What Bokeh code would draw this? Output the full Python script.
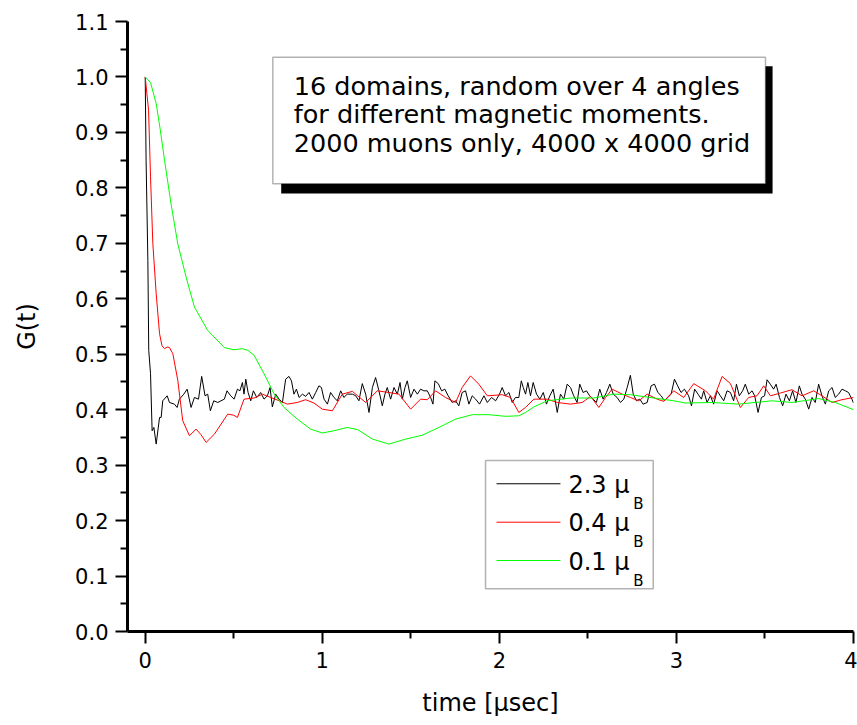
from bokeh.plotting import figure
from bokeh.models import Range1d, FixedTicker, BoxAnnotation, Label, Arrow
from bokeh.embed import file_html
from bokeh.resources import INLINE

# ---------------- data ----------------
t_23 = [0.000, 0.005, 0.015, 0.020, 0.030, 0.039, 0.049, 0.062, 0.081, 0.090, 0.099, 0.124, 0.137, 0.165, 0.180,
        0.193, 0.218, 0.237, 0.259, 0.278, 0.301, 0.319, 0.338, 0.353, 0.368, 0.387, 0.410, 0.428, 0.447, 0.462,
        0.483, 0.502, 0.521, 0.535, 0.549, 0.558, 0.568, 0.581, 0.596, 0.611, 0.630, 0.652, 0.671, 0.690, 0.705,
        0.718, 0.737, 0.756, 0.775, 0.793, 0.812, 0.826, 0.840, 0.854, 0.869, 0.888, 0.906, 0.925, 0.944, 0.963,
        0.981, 0.995, 1.010, 1.029, 1.047, 1.066, 1.085, 1.104, 1.122, 1.141, 1.170, 1.189, 1.207, 1.226, 1.245,
        1.264, 1.283, 1.301, 1.320, 1.339, 1.354, 1.367, 1.386, 1.405, 1.424, 1.439, 1.452, 1.467, 1.480, 1.499,
        1.518, 1.537, 1.555, 1.574, 1.593, 1.612, 1.625, 1.636, 1.655, 1.674, 1.692, 1.711, 1.734, 1.753, 1.771,
        1.790, 1.809, 1.828, 1.847, 1.866, 1.888, 1.913, 1.932, 1.956, 1.979, 2.001, 2.016, 2.035, 2.054, 2.073,
        2.091, 2.110, 2.124, 2.135, 2.148, 2.161, 2.176, 2.191, 2.210, 2.229, 2.248, 2.266, 2.285, 2.304, 2.327,
        2.345, 2.364, 2.383, 2.402, 2.420, 2.439, 2.454, 2.473, 2.492, 2.510, 2.530, 2.548, 2.567, 2.586, 2.605,
        2.624, 2.643, 2.665, 2.684, 2.703, 2.722, 2.740, 2.756, 2.774, 2.793, 2.812, 2.835, 2.857, 2.876, 2.895,
        2.914, 2.932, 2.951, 2.970, 2.989, 3.007, 3.026, 3.045, 3.069, 3.085, 3.103, 3.122, 3.141, 3.154, 3.173,
        3.192, 3.210, 3.230, 3.248, 3.267, 3.286, 3.305, 3.323, 3.339, 3.355, 3.374, 3.389, 3.408, 3.427, 3.442,
        3.461, 3.480, 3.498, 3.512, 3.530, 3.549, 3.563, 3.582, 3.600, 3.619, 3.638, 3.656, 3.675, 3.694, 3.709,
        3.728, 3.747, 3.766, 3.784, 3.803, 3.822, 3.841, 3.860, 3.879, 3.897, 3.916, 3.935, 3.954, 3.972, 3.991,
        4.000]
g_23 = [1.000, 0.850, 0.669, 0.507, 0.465, 0.362, 0.368, 0.338, 0.386, 0.386, 0.416, 0.425, 0.413, 0.410, 0.404,
        0.419, 0.428, 0.437, 0.404, 0.422, 0.419, 0.460, 0.425, 0.428, 0.398, 0.416, 0.413, 0.416, 0.419, 0.434,
        0.425, 0.419, 0.437, 0.434, 0.449, 0.428, 0.455, 0.431, 0.416, 0.434, 0.422, 0.431, 0.419, 0.425, 0.440,
        0.405, 0.428, 0.419, 0.413, 0.455, 0.460, 0.452, 0.428, 0.437, 0.422, 0.428, 0.424, 0.431, 0.419, 0.431,
        0.443, 0.440, 0.419, 0.410, 0.431, 0.422, 0.416, 0.434, 0.422, 0.428, 0.428, 0.425, 0.416, 0.447, 0.428,
        0.395, 0.440, 0.458, 0.434, 0.407, 0.428, 0.440, 0.419, 0.440, 0.428, 0.449, 0.419, 0.440, 0.452, 0.422,
        0.437, 0.428, 0.437, 0.434, 0.434, 0.422, 0.410, 0.452, 0.447, 0.434, 0.437, 0.425, 0.413, 0.416, 0.407,
        0.431, 0.434, 0.410, 0.425, 0.419, 0.410, 0.425, 0.413, 0.422, 0.416, 0.428, 0.440, 0.425, 0.431, 0.413,
        0.422, 0.422, 0.452, 0.440, 0.428, 0.449, 0.425, 0.449, 0.428, 0.419, 0.431, 0.410, 0.425, 0.437, 0.395,
        0.428, 0.419, 0.446, 0.440, 0.425, 0.413, 0.446, 0.431, 0.434, 0.425, 0.419, 0.413, 0.437, 0.419, 0.431,
        0.446, 0.428, 0.422, 0.413, 0.419, 0.440, 0.462, 0.428, 0.416, 0.419, 0.410, 0.413, 0.443, 0.446, 0.431,
        0.425, 0.416, 0.422, 0.428, 0.455, 0.443, 0.431, 0.437, 0.425, 0.407, 0.437, 0.428, 0.419, 0.434, 0.413,
        0.425, 0.410, 0.434, 0.425, 0.416, 0.434, 0.431, 0.416, 0.446, 0.425, 0.434, 0.446, 0.428, 0.434, 0.425,
        0.395, 0.422, 0.425, 0.454, 0.446, 0.437, 0.446, 0.422, 0.407, 0.428, 0.416, 0.434, 0.413, 0.443, 0.428,
        0.419, 0.401, 0.422, 0.413, 0.446, 0.425, 0.410, 0.434, 0.440, 0.422, 0.428, 0.437, 0.434, 0.431, 0.419,
        0.412]

t_04 = [0.000, 0.019, 0.030, 0.043, 0.062, 0.081, 0.095, 0.109, 0.125, 0.137, 0.156, 0.184, 0.212, 0.250, 0.287,
        0.315, 0.344, 0.391, 0.466, 0.500, 0.521, 0.558, 0.615, 0.662, 0.709, 0.765, 0.803, 0.859, 0.906, 0.953,
        1.000, 1.057, 1.113, 1.170, 1.200, 1.245, 1.311, 1.376, 1.433, 1.499, 1.555, 1.593, 1.640, 1.696, 1.753,
        1.790, 1.837, 1.884, 1.932, 2.016, 2.063, 2.110, 2.148, 2.195, 2.270, 2.327, 2.402, 2.468, 2.515, 2.562,
        2.600, 2.637, 2.694, 2.740, 2.787, 2.835, 2.891, 2.928, 2.985, 3.041, 3.098, 3.164, 3.210, 3.258, 3.305,
        3.361, 3.408, 3.455, 3.493, 3.531, 3.587, 3.653, 3.709, 3.775, 3.822, 3.879, 3.935, 4.000]
g_04 = [1.000, 0.940, 0.820, 0.700, 0.609, 0.537, 0.515, 0.510, 0.513, 0.512, 0.501, 0.453, 0.380, 0.353, 0.365,
        0.355, 0.341, 0.356, 0.392, 0.390, 0.386, 0.419, 0.421, 0.428, 0.422, 0.415, 0.410, 0.413, 0.418, 0.412,
        0.401, 0.398, 0.428, 0.433, 0.425, 0.413, 0.434, 0.431, 0.428, 0.401, 0.419, 0.418, 0.434, 0.422, 0.413,
        0.440, 0.461, 0.446, 0.425, 0.427, 0.422, 0.395, 0.404, 0.419, 0.419, 0.413, 0.410, 0.413, 0.424, 0.404,
        0.422, 0.437, 0.428, 0.422, 0.416, 0.428, 0.419, 0.415, 0.434, 0.422, 0.447, 0.434, 0.419, 0.460, 0.447,
        0.404, 0.422, 0.425, 0.443, 0.425, 0.430, 0.436, 0.425, 0.434, 0.425, 0.413, 0.418, 0.422]

t_01 = [0.000, 0.030, 0.062, 0.085, 0.109, 0.146, 0.184, 0.231, 0.278, 0.353, 0.447, 0.500, 0.549, 0.580, 0.615,
        0.671, 0.727, 0.784, 0.859, 0.934, 1.000, 1.066, 1.141, 1.200, 1.283, 1.376, 1.471, 1.565, 1.659, 1.753,
        1.847, 1.941, 2.035, 2.110, 2.148, 2.195, 2.270, 2.402, 2.533, 2.646, 2.740, 2.872, 2.985, 3.051, 3.200,
        3.352, 3.540, 3.653, 3.803, 3.897, 4.000]
g_01 = [1.000, 0.990, 0.952, 0.905, 0.850, 0.771, 0.699, 0.639, 0.585, 0.543, 0.512, 0.508, 0.510, 0.507, 0.498,
        0.465, 0.429, 0.404, 0.383, 0.365, 0.358, 0.362, 0.368, 0.364, 0.347, 0.338, 0.347, 0.354, 0.368, 0.383,
        0.391, 0.391, 0.388, 0.389, 0.395, 0.405, 0.416, 0.421, 0.421, 0.428, 0.427, 0.421, 0.416, 0.412, 0.413,
        0.410, 0.416, 0.413, 0.420, 0.413, 0.400]

series_labels = ["2.3 \u03bc", "0.4 \u03bc", "0.1 \u03bc"]
series_sub = ["B", "B", "B"]
series_colors = ["#000000", "#ff0000", "#00ff00"]

x_ticks = [0, 1, 2, 3, 4]
x_tick_labels = ["0", "1", "2", "3", "4"]
x_minor = [0.5, 1.5, 2.5, 3.5]
y_ticks = [0.0, 0.1, 0.2, 0.3, 0.4, 0.5, 0.6, 0.7, 0.8, 0.9, 1.0, 1.1]
y_tick_labels = ["0.0", "0.1", "0.2", "0.3", "0.4", "0.5", "0.6", "0.7", "0.8", "0.9", "1.0", "1.1"]
y_minor = [0.05, 0.15, 0.25, 0.35, 0.45, 0.55, 0.65, 0.75, 0.85, 0.95, 1.05]

note_lines = ["16 domains, random over 4 angles",
              "for different magnetic moments.",
              "2000 muons only, 4000 x 4000 grid"]

FONT = "DejaVu Sans"

# ---------------- figure ----------------
p = figure(width=857, height=725, output_backend="svg", toolbar_location=None,
           x_range=Range1d(-0.1, 4.0), y_range=Range1d(0.0, 1.1),
           min_border_left=127, min_border_right=4, min_border_top=21, min_border_bottom=94)
p.outline_line_color = None
p.xgrid.grid_line_color = None
p.ygrid.grid_line_color = None
p.background_fill_color = "white"
p.border_fill_color = "white"

for t, g, c in zip([t_23, t_04, t_01], [g_23, g_04, g_01], series_colors):
    p.line(t, g, line_color=c, line_width=1)

for ax, ticks, labels, minor in [(p.xaxis[0], x_ticks, x_tick_labels, x_minor),
                                 (p.yaxis[0], y_ticks, y_tick_labels, y_minor)]:
    ax.ticker = FixedTicker(ticks=ticks, minor_ticks=minor)
    ax.major_label_overrides = {float(v): l for v, l in zip(ticks, labels)}
    ax.axis_line_width = 3
    ax.axis_line_color = "black"
    ax.major_tick_line_width = 2
    ax.minor_tick_line_width = 2
    ax.major_tick_out = 12
    ax.major_tick_in = 0
    ax.minor_tick_out = 7
    ax.minor_tick_in = 0
    ax.major_label_text_font = FONT
    ax.major_label_text_font_size = "21px"
    ax.major_label_text_color = "black"
    ax.axis_label_text_font = FONT
    ax.axis_label_text_font_size = "24px"
    ax.axis_label_text_font_style = "normal"
    ax.axis_label_text_color = "black"

p.xaxis[0].axis_label = "time [\u03bcsec]"
p.xaxis[0].major_label_standoff = 8
p.xaxis[0].axis_label_standoff = 18
p.yaxis[0].axis_label = "G(t)"
p.yaxis[0].major_label_standoff = 7
p.yaxis[0].axis_label_standoff = 31

# ---------------- annotation box with shadow ----------------
p.add_layout(BoxAnnotation(left=0.768, right=3.543, top=1.0195, bottom=0.790,
                           fill_color="black", fill_alpha=1.0, line_color=None, level="overlay"))
p.add_layout(BoxAnnotation(left=0.7206, right=3.503, top=1.0357, bottom=0.8074,
                           fill_color="white", fill_alpha=1.0, line_color="black", line_width=1.5,
                           level="overlay"))
for txt, yb in zip(note_lines, [0.9839, 0.9340, 0.8812]):
    p.add_layout(Label(x=0.839, y=yb, text=txt, text_font=FONT, text_font_size="25.5px",
                       text_baseline="alphabetic", text_color="black", level="overlay"))

# ---------------- legend (drawn by hand: box, line samples, labels) ----------------
p.add_layout(BoxAnnotation(left=1.922, right=2.869, top=0.3084, bottom=0.0770,
                           fill_color="white", fill_alpha=1.0, line_color="black", line_width=1.5,
                           level="overlay"))
row_y = [0.2664, 0.1971, 0.1280]
row_base = [0.2645, 0.1953, 0.1262]
row_sub = [0.2300, 0.1609, 0.0918]
for lab, sub, c, yl, yb, ys in zip(series_labels, series_sub, series_colors, row_y, row_base, row_sub):
    p.add_layout(Arrow(x_start=1.984, y_start=yl, x_end=2.345, y_end=yl, start=None, end=None,
                       line_color=c, line_width=1, level="overlay"))
    p.add_layout(Label(x=2.39, y=yb, text=lab, text_font=FONT, text_font_size="24px",
                       text_baseline="alphabetic", text_color="black", level="overlay"))
    p.add_layout(Label(x=2.756, y=ys, text=sub, text_font=FONT, text_font_size="15px",
                       text_baseline="alphabetic", text_color="black", level="overlay"))

open("out.html", "w").write(file_html(p, INLINE))
